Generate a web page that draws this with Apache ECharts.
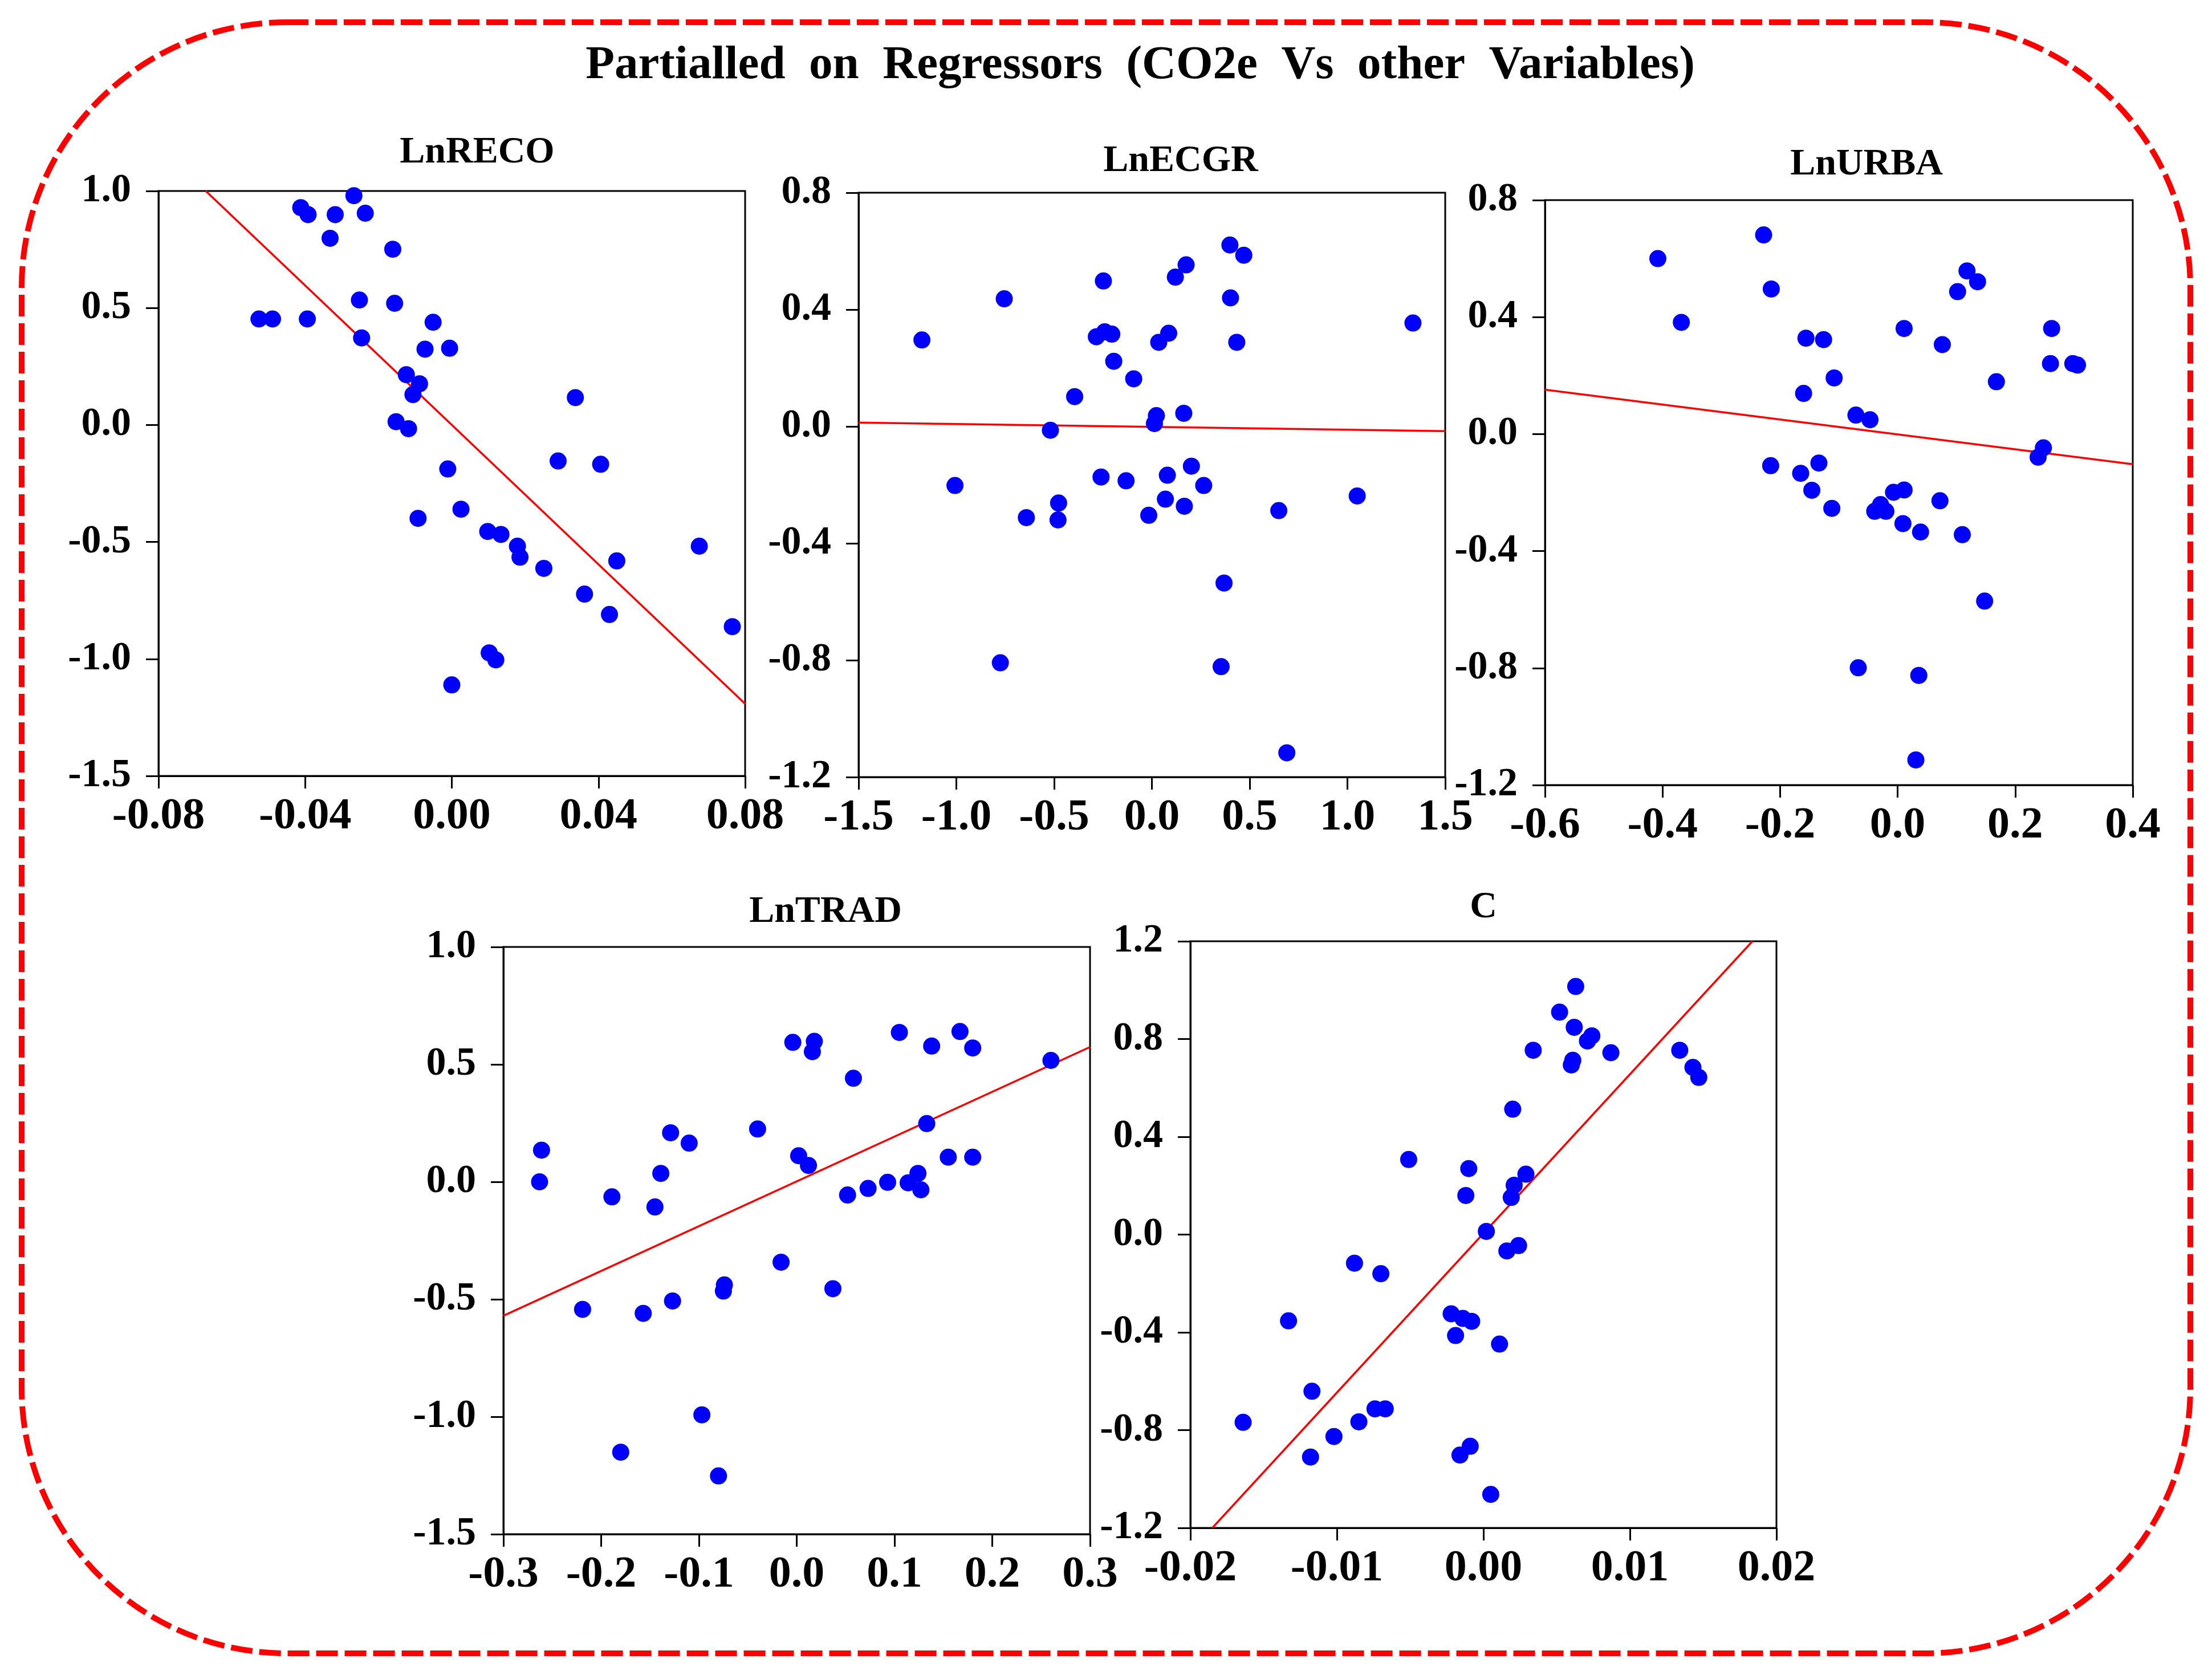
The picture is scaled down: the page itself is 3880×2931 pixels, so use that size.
<!DOCTYPE html>
<html>
<head>
<meta charset="utf-8">
<title>Partialled on Regressors</title>
<script src="https://cdn.jsdelivr.net/npm/echarts@6.0.0/dist/echarts.min.js"></script>
<style>
  html, body { margin: 0; padding: 0; background: #fff; }
  #main { width: 3880px; height: 2931px; }
</style>
</head>
<body>
<div id="main"></div>
<script>
// panel names
var panelNames = ['LnRECO', 'LnECGR', 'LnURBA', 'LnTRAD', 'C'];

// LnRECO
var recoX = [-0.0526, -0.0489, -0.0394, -0.0412, -0.0392, -0.0332, -0.0318, -0.0267, -0.0236, -0.0252,
             -0.0246, -0.0161, -0.0156, -0.0124, -0.0088, -0.0106, -0.0152, -0.0118, -0.0073, -0.0051,
             -0.0006, -0.0011, -0.0092, 0.0025, 0.0000, 0.0098, 0.0134, 0.0179, 0.0186, 0.0102,
             0.0120, 0.0251, 0.0290, 0.0337, 0.0406, 0.0362, 0.0430, 0.0450, 0.0675, 0.0765];
var recoY = [0.453, 0.453, 0.453, 0.929, 0.899, 0.798, 0.899, 0.980, 0.905, 0.534,
             0.372, 0.751, 0.520, 0.215, 0.176, 0.130, 0.014, -0.016, 0.324, 0.439,
             0.328, -0.188, -0.399, -0.360, -1.111, -0.455, -0.468, -0.518, -0.565, -0.974,
             -1.004, -0.613, -0.154, 0.117, -0.168, -0.723, -0.810, -0.581, -0.518, -0.862];
var recoFit = [[-0.0671, 1.0], [0.08, -1.192]];

// LnECGR
var ecgrX = [-1.176, -1.007, -0.755, -0.775, -0.642, -0.519, -0.477, -0.480, -0.395, -0.284,
             -0.248, -0.241, -0.205, -0.195, -0.260, -0.132, -0.093, -0.016, 0.013, 0.023,
             0.035, 0.086, 0.079, 0.069, 0.120, 0.175, 0.163, 0.166, 0.202, 0.265,
             0.399, 0.470, 0.402, 0.434, 0.369, 0.354, 0.649, 0.690, 1.050, 1.335];
var ecgrY = [0.296, -0.202, 0.437, -0.809, -0.312, -0.013, -0.262, -0.320, 0.102, 0.307,
             0.498, 0.324, 0.316, 0.223, -0.173, -0.186, 0.163, -0.304, 0.010, 0.037,
             0.288, 0.319, -0.167, -0.249, 0.511, 0.553, 0.045, -0.273, -0.136, -0.202,
             0.621, 0.586, 0.440, 0.288, -0.536, -0.822, -0.288, -1.117, -0.238, 0.354];
var ecgrFit = [[-1.5, 0.013], [1.5, -0.016]];

// LnURBA
var urbaX = [-0.408, -0.368, -0.228, -0.215, -0.216, -0.156, -0.126, -0.160, -0.165, -0.146,
             -0.134, -0.108, -0.112, -0.071, -0.047, -0.067, -0.039, -0.029, -0.020, -0.007,
             0.011, 0.011, 0.009, 0.039, 0.036, 0.031, 0.072, 0.076, 0.102, 0.118,
             0.136, 0.110, 0.148, 0.168, 0.239, 0.248, 0.260, 0.262, 0.298, 0.306];
var urbaY = [0.600, 0.382, 0.681, 0.496, -0.108, 0.328, 0.323, 0.139, -0.134, -0.192,
             -0.099, 0.192, -0.254, 0.065, 0.049, -0.799, -0.264, -0.241, -0.264, -0.199,
             -0.191, 0.361, -0.306, -0.335, -0.825, -1.114, -0.228, 0.306, 0.487, 0.558,
             0.521, -0.344, -0.571, 0.179, -0.079, -0.047, 0.241, 0.361, 0.241, 0.236];
var urbaFit = [[-0.6, 0.152], [0.4, -0.103]];

// LnTRAD
var tradX = [-0.261, -0.263, -0.219, -0.189, -0.180, -0.157, -0.145, -0.139, -0.129, -0.127,
             -0.110, -0.097, -0.080, -0.074, -0.075, -0.040, -0.016, -0.004, 0.002, 0.012,
             0.018, 0.016, 0.037, 0.052, 0.058, 0.073, 0.093, 0.105, 0.114, 0.124,
             0.127, 0.133, 0.138, 0.155, 0.167, 0.180, 0.180, 0.260];
var tradY = [0.135, 0.000, -0.543, -0.064, -1.151, -0.560, -0.107, 0.036, 0.209, -0.507,
             0.165, -0.992, -1.252, -0.439, -0.465, 0.225, -0.342, 0.594, 0.111, 0.070,
             0.598, 0.554, -0.455, -0.056, 0.441, -0.028, -0.002, 0.636, -0.004, 0.036,
             -0.034, 0.248, 0.578, 0.105, 0.640, 0.570, 0.105, 0.517];
var tradFit = [[-0.3, -0.570], [0.3, 0.574]];

// C
var cX = [-0.0164, -0.0133, -0.0117, -0.0118, -0.0102, -0.0088, -0.0085, -0.0074, -0.0067, -0.0070,
          -0.0051, -0.0022, -0.0019, -0.0014, -0.0008, -0.0016, -0.0009, -0.0012, -0.0010, 0.0002,
          0.0005, 0.0011, 0.0016, 0.0024, 0.0019, 0.0021, 0.0029, 0.0020, 0.0034, 0.0052,
          0.0063, 0.0062, 0.0060, 0.0061, 0.0071, 0.0074, 0.0087, 0.0134, 0.0143, 0.0147];
var cY = [-0.768, -0.353, -0.641, -0.910, -0.826, -0.117, -0.766, -0.713, -0.713, -0.160,
          0.307, -0.324, -0.413, -0.343, -0.355, -0.902, -0.866, 0.160, 0.270, 0.013,
          -1.063, -0.448, -0.067, -0.045, 0.152, 0.202, 0.247, 0.513, 0.754, 0.910,
          1.015, 0.848, 0.694, 0.713, 0.792, 0.813, 0.744, 0.754, 0.684, 0.643];
var cFit = [[-0.0185, -1.2], [0.01836, 1.2]];

// axis ranges: [min, max, interval, decimals]
var xRanges = [[-0.08, 0.08, 0.04, 2], [-1.5, 1.5, 0.5, 1], [-0.6, 0.4, 0.2, 1], [-0.3, 0.3, 0.1, 1], [-0.02, 0.02, 0.01, 2]];
var yRanges = [[-1.5, 1.0, 0.5, 1], [-1.2, 0.8, 0.4, 1], [-1.2, 0.8, 0.4, 1], [-1.5, 1.0, 0.5, 1], [-1.2, 1.2, 0.4, 1]];

var xsAll = [recoX, ecgrX, urbaX, tradX, cX];
var ysAll = [recoY, ecgrY, urbaY, tradY, cY];
var fits = [recoFit, ecgrFit, urbaFit, tradFit, cFit];

// plot boxes in px: left, top, right, bottom
var boxes = [
  [278, 335, 1307, 1361],
  [1506, 338, 2535, 1363],
  [2710, 351, 3741, 1377],
  [883, 1661, 1912, 2691],
  [2088, 1651, 3116, 2680]
];
var titlePos = [[837, 268], [2071, 283], [3274, 289], [1448, 1600], [2602, 1592]];

var FONT = 'Liberation Serif';

function fmt(d) {
  return function (v) {
    if (Math.abs(v) < 1e-9) v = 0;
    return v.toFixed(d);
  };
}

var grids = [], xAxes = [], yAxes = [], series = [], graphics = [];

boxes.forEach(function (b, i) {
  grids.push({
    left: b[0], top: b[1], width: b[2] - b[0], height: b[3] - b[1],
    show: true, borderColor: '#000', borderWidth: 3, backgroundColor: '#fff'
  });
  var axisCommon = {
    axisLine: { show: true, onZero: false, lineStyle: { color: '#000', width: 3 } },
    axisTick: { show: true, inside: false, length: 22, lineStyle: { color: '#000', width: 3 } },
    splitLine: { show: false },
    axisLabel: {
      color: '#000', fontFamily: FONT, fontWeight: 'bold', fontSize: 70,
      showMinLabel: true, showMaxLabel: true
    }
  };
  var xr = xRanges[i], yr = yRanges[i];
  xAxes.push(Object.assign({}, axisCommon, {
    type: 'value', gridIndex: i, min: xr[0], max: xr[1], interval: xr[2],
    axisLabel: Object.assign({}, axisCommon.axisLabel, { fontSize: 78, margin: 33, formatter: fmt(xr[3]) })
  }));
  yAxes.push(Object.assign({}, axisCommon, {
    type: 'value', gridIndex: i, min: yr[0], max: yr[1], interval: yr[2],
    axisLabel: Object.assign({}, axisCommon.axisLabel, { margin: 48, formatter: fmt(yr[3]) })
  }));

  var pts = xsAll[i].map(function (x, k) { return [x, ysAll[i][k]]; });
  series.push({
    type: 'line', xAxisIndex: i, yAxisIndex: i,
    data: fits[i], symbol: 'none', silent: true, z: 2,
    lineStyle: { color: '#ff0000', width: 3.5 }
  });
  series.push({
    type: 'scatter', xAxisIndex: i, yAxisIndex: i,
    data: pts, symbol: 'circle', symbolSize: 30, z: 3,
    itemStyle: { color: '#0000ff', opacity: 1 }
  });

  graphics.push({
    type: 'text', x: titlePos[i][0], y: titlePos[i][1], z: 10,
    style: {
      text: panelNames[i], fill: '#000', font: 'bold 66px "' + FONT + '"',
      textAlign: 'center', textVerticalAlign: 'middle'
    }
  });
});

// main title
graphics.push({
  type: 'text', x: 2000, y: 116, z: 10,
  style: {
    text: 'Partialled  on  Regressors  (CO2e  Vs  other  Variables)',
    fill: '#000', font: 'bold 83px "' + FONT + '"',
    textAlign: 'center', textVerticalAlign: 'middle'
  }
});

// dashed rounded frame
graphics.push({
  type: 'rect', z: 0, silent: true,
  shape: { x: 38, y: 39, width: 3804, height: 2861, r: 465 },
  style: { fill: 'none', stroke: '#ff0000', lineWidth: 10, lineDash: [38, 12] }
});

var chart = echarts.init(document.getElementById('main'), null, { renderer: 'canvas' });
chart.setOption({
  backgroundColor: '#ffffff',
  animation: false,
  grid: grids,
  xAxis: xAxes,
  yAxis: yAxes,
  series: series,
  graphic: graphics
});
</script>
</body>
</html>
